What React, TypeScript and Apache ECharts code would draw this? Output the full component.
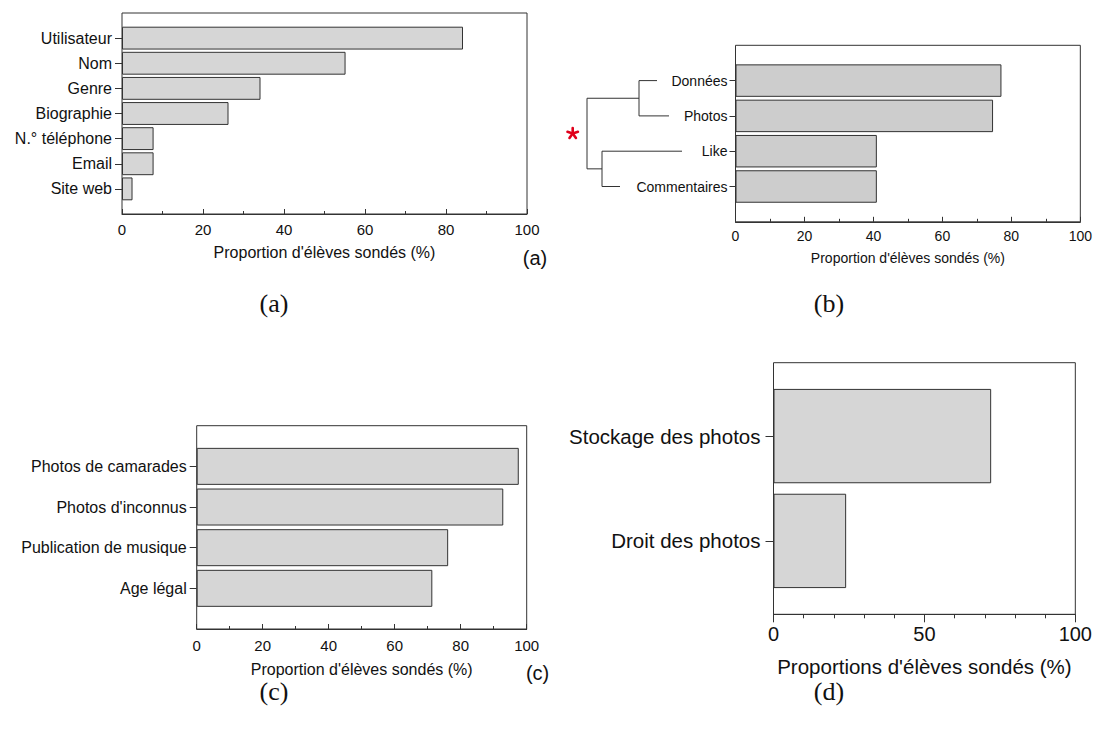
import React, { useEffect, useRef } from 'react';
import * as echarts from 'echarts';

// ---------- data ----------
const catsA = ['Utilisateur', 'Nom', 'Genre', 'Biographie', 'N.° téléphone', 'Email', 'Site web'];
const valsA = [84.2, 55.2, 34.2, 26.3, 7.8, 7.8, 2.6];

const catsB = ['Données', 'Photos', 'Like', 'Commentaires'];
const valsB = [76.2, 73.8, 40.5, 40.5];

const catsC = ['Photos de camarades', "Photos d'inconnus", 'Publication de musique', 'Age légal'];
const valsC = [97.6, 92.9, 76.2, 71.4];

const catsD = ['Stockage des photos', 'Droit des photos'];
const valsD = [71.6, 23.9];

const titleABC = "Proportion d'élèves sondés (%)";
const titleD = "Proportions d'élèves sondés (%)";
const captions = ['(a)', '(b)', '(c)', '(d)'];

const SANS = '"Liberation Sans", Arial, Helvetica, sans-serif';
const SERIF = '"Liberation Serif", "Times New Roman", serif';

type Panel = {
  cats: string[]; vals: number[];
  left: number; top: number; width: number; height: number; pad: number;
  gap: string; catFont: number; tickFont: number; nameFont: number;
  catMargin: number; catTickLen: number; xMargin: number; nameGap: number;
  interval: number; minorSplit: number; inside: boolean; majorLen: number; minorLen: number;
  fill: string; title: string;
};

const panels: Panel[] = [
  { cats: catsA, vals: valsA, left: 122, top: 13, width: 405, height: 201, pad: 0.5, gap: '9%',
    catFont: 16, tickFont: 15, nameFont: 16, catMargin: 10, catTickLen: 7, xMargin: 8, nameGap: 30,
    interval: 20, minorSplit: 2, inside: true, majorLen: 5, minorLen: 3, fill: '#d6d6d6', title: titleABC },
  { cats: catsB, vals: valsB, left: 735.5, top: 45.3, width: 349, height: 176.5, pad: 0.5, gap: '8%',
    catFont: 14, tickFont: 14, nameFont: 14, catMargin: 8, catTickLen: 6, xMargin: 7, nameGap: 29,
    interval: 20, minorSplit: 2, inside: true, majorLen: 5, minorLen: 3, fill: '#cdcdcd', title: titleABC },
  { cats: catsC, vals: valsC, left: 196.7, top: 425.7, width: 330, height: 203.3, pad: 0.5, gap: '9%',
    catFont: 16, tickFont: 15, nameFont: 16, catMargin: 10, catTickLen: 7, xMargin: 9, nameGap: 32,
    interval: 20, minorSplit: 2, inside: true, majorLen: 5, minorLen: 3, fill: '#d6d6d6', title: titleABC },
  { cats: catsD, vals: valsD, left: 773.5, top: 362.7, width: 304, height: 251.6, pad: 0.2, gap: '10%',
    catFont: 20.5, tickFont: 20, nameFont: 20.5, catMargin: 13, catTickLen: 8, xMargin: 10, nameGap: 42,
    interval: 50, minorSplit: 5, inside: false, majorLen: 8, minorLen: 4, fill: '#d6d6d6', title: titleD },
];

function buildOption() {
  const grid: any[] = [];
  const xAxis: any[] = [];
  const yAxis: any[] = [];
  const series: any[] = [];
  panels.forEach((p, i) => {
    const n = p.cats.length;
    const band = p.height / (n + 2 * p.pad);
    const innerTop = p.top + band * p.pad;
    // frame grid with visible x axis
    grid.push({ left: p.left, top: p.top, width: p.width, height: p.height, show: true,
      borderColor: '#333', borderWidth: 1, backgroundColor: 'transparent', containLabel: false });
    // inner grid for categorical bars
    grid.push({ left: p.left, top: innerTop, width: p.width, height: band * n, show: false, containLabel: false });
    xAxis.push({
      type: 'value', gridIndex: 2 * i, min: 0, max: 100, interval: p.interval,
      axisLine: { show: true, lineStyle: { color: '#333', width: 1 } },
      axisTick: { show: true, inside: p.inside, length: p.majorLen, lineStyle: { color: '#333' } },
      minorTick: { show: true, splitNumber: p.minorSplit, length: p.minorLen, lineStyle: { color: '#333' } },
      splitLine: { show: false },
      axisLabel: { fontSize: p.tickFont, color: '#111', margin: p.xMargin, fontFamily: SANS },
      name: p.title, nameLocation: 'middle', nameGap: p.nameGap,
      nameTextStyle: { fontSize: p.nameFont, color: '#111', fontFamily: SANS },
    });
    xAxis.push({ type: 'value', gridIndex: 2 * i + 1, min: 0, max: 100, show: false });
    yAxis.push({ type: 'value', gridIndex: 2 * i, min: 0, max: 1, show: false });
    yAxis.push({
      type: 'category', gridIndex: 2 * i + 1, data: p.cats, inverse: true,
      axisLine: { show: false },
      axisTick: { show: true, alignWithLabel: true, inside: false, length: p.catTickLen, lineStyle: { color: '#333' } },
      axisLabel: { fontSize: p.catFont, color: '#111', margin: p.catMargin, fontFamily: SANS },
      splitLine: { show: false },
    });
    series.push({
      type: 'bar', xAxisIndex: 2 * i + 1, yAxisIndex: 2 * i + 1, data: p.vals,
      barCategoryGap: p.gap, silent: true,
      itemStyle: { color: p.fill, borderColor: '#333', borderWidth: 1 },
    });
  });

  const graphic: any[] = [
    { type: 'text', x: 535, y: 258, style: { text: '(a)', font: `20px ${SANS}`, fill: '#111', align: 'center', verticalAlign: 'middle' } },
    { type: 'text', x: 537.6, y: 673, style: { text: '(c)', font: `20px ${SANS}`, fill: '#111', align: 'center', verticalAlign: 'middle' } },
    { type: 'text', x: 274, y: 303, style: { text: captions[0], font: `26px ${SERIF}`, fill: '#111', align: 'center', verticalAlign: 'middle' } },
    { type: 'text', x: 829, y: 303, style: { text: captions[1], font: `26px ${SERIF}`, fill: '#111', align: 'center', verticalAlign: 'middle' } },
    { type: 'text', x: 274, y: 691, style: { text: captions[2], font: `26px ${SERIF}`, fill: '#111', align: 'center', verticalAlign: 'middle' } },
    { type: 'text', x: 829, y: 691, style: { text: captions[3], font: `26px ${SERIF}`, fill: '#111', align: 'center', verticalAlign: 'middle' } },
  ];

  return {
    animation: false,
    backgroundColor: '#ffffff',
    textStyle: { fontFamily: SANS },
    grid, xAxis, yAxis, series, graphic,
  };
}

export default function App() {
  const ref = useRef<HTMLDivElement>(null);
  useEffect(() => {
    if (!ref.current) return;
    const chart = echarts.init(ref.current, null, { renderer: 'svg' });
    const option = buildOption();
    chart.setOption(option);

    // dendrogram for panel (b), anchored to the category positions
    const yOf = (c: string) => chart.convertToPixel({ yAxisIndex: 3 } as any, c) as unknown as number;
    const yD = yOf(catsB[0]);
    const yP = yOf(catsB[1]);
    const yL = yOf(catsB[2]);
    const yC = yOf(catsB[3]);
    const n1 = (yD + yP) / 2;
    const n2 = (yL + yC) / 2;
    const xRoot = 587, xN1 = 639, xN2 = 602;
    const ls = { stroke: '#333', lineWidth: 1, fill: 'none' };
    const dendro: any[] = [
      { type: 'polyline', shape: { points: [[657, yD], [xN1, yD], [xN1, yP], [669, yP]] }, style: ls },
      { type: 'polyline', shape: { points: [[682, yL], [xN2, yL], [xN2, yC], [620, yC]] }, style: ls },
      { type: 'polyline', shape: { points: [[xN1, n1], [xRoot, n1], [xRoot, n2], [xN2, n2]] }, style: ls },
    ];
    const sx = 572.7, sy = (n1 + n2) / 2;
    for (let k = 0; k < 5; k++) {
      const a = -Math.PI / 2 + (k * 2 * Math.PI) / 5;
      dendro.push({ type: 'line', shape: { x1: sx, y1: sy, x2: sx + 5.5 * Math.cos(a), y2: sy + 5.5 * Math.sin(a) },
        style: { stroke: '#e0001b', lineWidth: 2.6, lineCap: 'round' } });
    }
    chart.setOption({ graphic: [...option.graphic, ...dendro] });
    return () => chart.dispose();
  }, []);
  return <div ref={ref} style={{ position: 'absolute', left: 0, top: 0, width: 1095, height: 731 }} />;
}
